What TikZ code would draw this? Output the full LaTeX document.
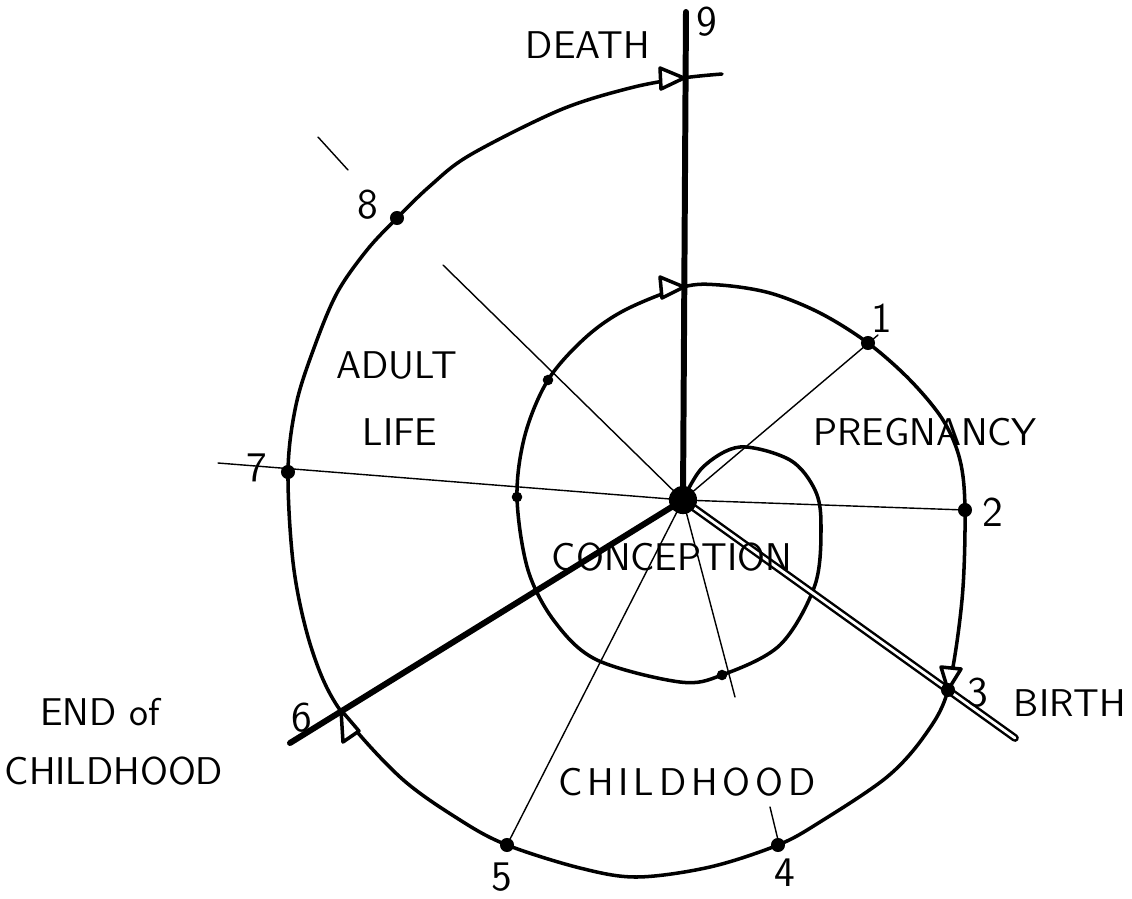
\documentclass[tikz,border=0pt]{standalone}
\usepackage{fontspec}
\newcommand{\gp}{\kern1.4pt}
\begin{document}
\begin{tikzpicture}[x=0.01cm,y=-0.01cm,line cap=round,line join=round,
  every node/.style={font=\sffamily\fontsize{11}{13}\selectfont},
  num/.style={font=\sffamily\fontsize{12}{14}\selectfont},
  spiral/.style={line width=1pt},
  thinray/.style={line width=0.4pt},
  heavyray/.style={line width=1.7pt},
  birthray/.style={line width=0.7pt,double=white,double distance=0.8pt},
  tipmark/.style={line width=1pt,fill=white},
  dot/.style={circle,fill,inner sep=0pt,minimum size=4pt}]
\useasboundingbox (0,0) rectangle (1132,899);
% centre and marked points
\coordinate (C) at (683,500);
\coordinate (p1) at (868,343);
\coordinate (p2) at (965,510);
\coordinate (p3) at (948,690);
\coordinate (p4) at (778,845);
\coordinate (p5) at (507,845);
\coordinate (p6) at (340,710);
\coordinate (p7) at (288,472);
\coordinate (p8) at (397,218);
\coordinate (e1) at (878,335);
\coordinate (e3) at (1015,738);
\coordinate (e4) at (735,697);
\coordinate (e6) at (290,743);
\coordinate (e7) at (218,463);
\coordinate (e8) at (443,265);
\coordinate (e9) at (686,12);
% the spiral
\draw[spiral] plot[smooth,tension=0.55] coordinates {(683,500) (703,467) (740,447) (790,460)
  (815,490) (821,525) (815,585) (780,645) (722,675) (680,682) (597,660) (555,622) (528,570)
  (517,497) (525,435) (548,380) (585,338) (625,310) (683,287) (720,285) (770,293) (820,313)
  (868,343) (910,380) (943,420) (960,460) (965,510) (962,600) (948,690) (925,735) (887,777)
  (820,822) (778,845) (710,867) (637,877) (580,868) (507,845) (460,820) (400,777)
  (340,710) (312,650) (294,570) (288,472) (296,405) (314,348) (337,293) (367,250) (397,218)
  (430,186) (470,155) (560,110) (630,88) (683,78) (722,74)};
% rays
\draw[heavyray] (C) -- (e9);
\draw[heavyray] (C) -- (e6);
\draw[birthray] (C) -- (e3);
\draw[thinray] (C) -- (e1);
\draw[thinray] (C) -- (p2);
\draw[thinray] (C) -- (e4);
\draw[thinray] (C) -- (p5);
\draw[thinray] (C) -- (e7);
\draw[thinray] (C) -- (e8);
\draw[thinray] (770,807) -- (780,848);
\draw[thinray] (318,137) -- (348,170);
% arrow heads
\draw[tipmark] (684,78) -- (660,68) -- (661,89) -- cycle;
\draw[tipmark] (684,287) -- (660,277) -- (662,298) -- cycle;
\draw[tipmark] (948,690) -- (941,667) -- (961,669) -- cycle;
\draw[tipmark] (341,710) -- (343,742) -- (359,731) -- cycle;
% dots
\node[dot,minimum size=8pt] (c0) at (C) {};
\foreach \p in {p1,p2,p3,p4,p5,p7,p8} \node[dot] at (\p) {};
\node[dot,minimum size=3pt] (i1) at (548,380) {};
\node[dot,minimum size=3pt] (i2) at (517,497) {};
\node[dot,minimum size=3pt] (i3) at (722,675) {};
% labels
\node (death) at (588,45) {DEATH};
\node (adult) at (397,365) {ADULT};
\node (life) at (400,432) {LIFE};
\node (preg) at (925,432) {PREGNANCY};
\node (conc) at (672,557) {CONCEPTION};
\node (child) at (687,782) {C\gp H\gp I\gp L\gp D\gp H\gp O\gp O\gp D};
\node (birth) at (1070,703) {BIRTH};
\node (endof) at (100,712) {END of};
\node (endchild) at (114,771) {CHILDHOOD};
\node[num] (n1) at (882,318) {1};
\node[num] (n2) at (993,512) {2};
\node[num] (n3) at (978,693) {3};
\node[num] (n4) at (785,873) {4};
\node[num] (n5) at (502,877) {5};
\node[num] (n6) at (302,718) {6};
\node[num] (n7) at (257,468) {7};
\node[num] (n8) at (368,205) {8};
\node[num] (n9) at (707,22) {9};
\end{tikzpicture}
\end{document}
